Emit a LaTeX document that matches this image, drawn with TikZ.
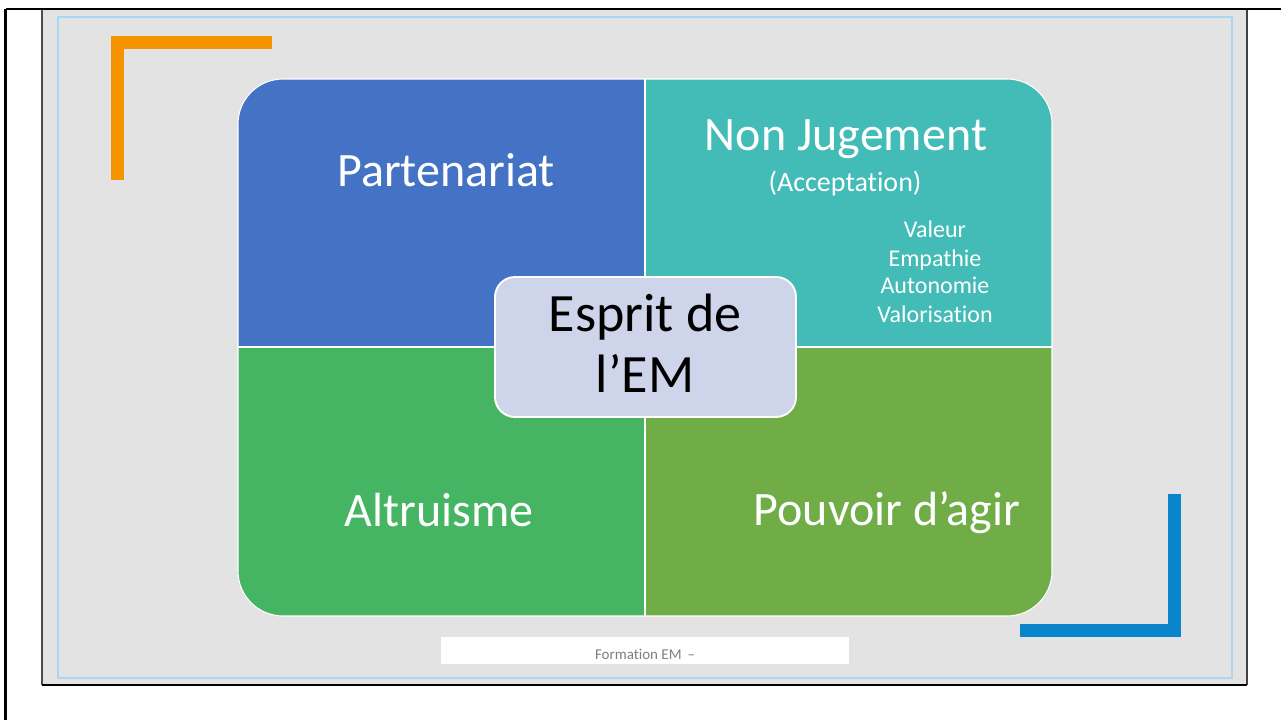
\documentclass[tikz,border=0pt]{standalone}
\usepackage{fontspec}
\setmainfont{Carlito}[Ligatures=NoCommon]
\definecolor{slidegray}{HTML}{E3E3E3}
\definecolor{frameblue}{HTML}{A9D6F2}
\definecolor{qblue}{HTML}{4472C4}
\definecolor{qteal}{HTML}{43BCB7}
\definecolor{qgreen}{HTML}{46B563}
\definecolor{qlime}{HTML}{70AD47}
\definecolor{centerfill}{HTML}{CED4E9}
\definecolor{lorange}{HTML}{F59300}
\definecolor{lblue}{HTML}{0A84CA}
\definecolor{foottext}{HTML}{7F7F7F}
\tikzset{
  bigtext/.style={text=white, anchor=base, inner sep=0pt, font=\fontsize{36}{40}\selectfont},
  smalltext/.style={text=white, anchor=base, inner sep=0pt},
  cornerbar/.style={line width=9.75pt, line join=miter, line cap=butt},
}
\begin{document}
\begin{tikzpicture}[x=0.75pt, y=-0.75pt]
\useasboundingbox (0,0) rectangle (1281,720);
\fill[white] (0,0) rectangle (1281,720);
% slide
\fill[slidegray] (42,10) rectangle (1247,685);
\draw[black!70, line width=0.8pt] (42,10) -- (42,685);
\draw[black!75, line width=1.6pt] (1247,10) -- (1247,685);
\draw[black, line width=1.6pt] (42,685) -- (1247,685);
\draw[black, line width=2.2pt] (5.5,9) -- (1281,9);
\draw[black, line width=1.8pt] (5.5,9) -- (5.5,720);
\draw[frameblue, line width=0.9pt] (58,17) rectangle (1232,678);
% corner bars
\draw[cornerbar, lorange] (117.5,180) -- (117.5,42.5) -- (272,42.5);
\draw[cornerbar, lblue] (1174.5,494) -- (1174.5,630) -- (1020,630);
% quadrants
\begin{scope}
\clip[rounded corners=33.75pt] (238,79) rectangle (1052,616);
\fill[qblue] (238,79) rectangle (645,347);
\fill[qteal] (645,79) rectangle (1052,347);
\fill[qgreen] (238,347) rectangle (645,616);
\fill[qlime] (645,347) rectangle (1052,616);
\draw[white, line width=1.2pt] (645,79) -- (645,616);
\draw[white, line width=1.2pt] (238,347) -- (1052,347);
\end{scope}
\draw[white, line width=0.8pt, rounded corners=33.75pt] (238,79) rectangle (1052,616);
% quadrant texts
\node[bigtext] (partenariat) at (446,187) {Partenariat};
\node[bigtext] (nonjugement) at (846,151) {Non Jugement};
\node[smalltext, font=\fontsize{21}{24}\selectfont] (acceptation) at (845,192) {(Acceptation)};
\node[smalltext, align=center, font=\fontsize{18}{21}\selectfont] (liste) at (935,322) {Valeur\\Empathie\\Autonomie\\Valorisation};
\node[bigtext] (altruisme) at (439,526) {Altruisme};
\node[bigtext] (pouvoir) at (887,525) {Pouvoir d’agir};
% center box
\filldraw[fill=centerfill, draw=white, line width=1.4pt, rounded corners=15pt] (495,277) rectangle (796,417);
\node[anchor=base, inner sep=0pt, align=center, font=\fontsize{40.5}{45.75}\selectfont] (esprit) at (645,392) {Esprit de\\l’EM};
% footer
\fill[white] (441,637) rectangle (849,664);
\node[anchor=base, inner sep=0pt, text=foottext, font=\fontsize{11.25}{13}\selectfont] (footer) at (645,659) {Formation EM \,–};
\end{tikzpicture}
\end{document}
